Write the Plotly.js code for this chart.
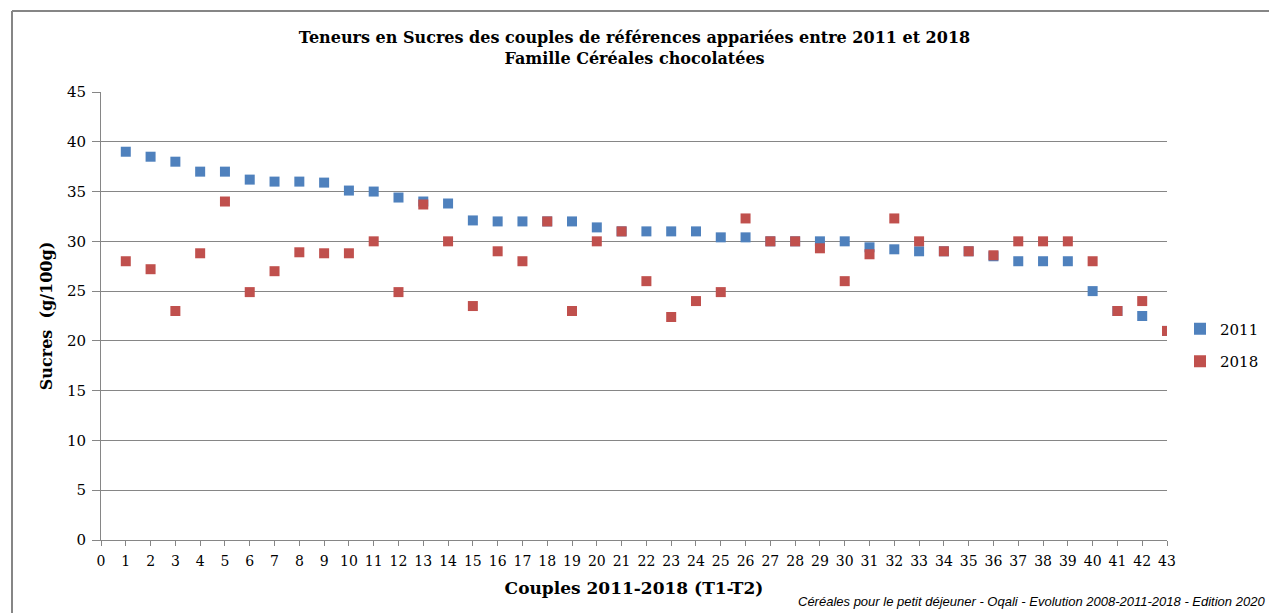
<!DOCTYPE html>
<html><head><meta charset="utf-8">
<script src="https://cdn.plot.ly/plotly-3.0.1.min.js"></script>
<style>html,body{margin:0;padding:0;background:#fff;}#chart{width:1269px;height:613px;}</style>
</head><body><div id="chart"></div>
<script>
const couples = Array.from({length:43},(_,i)=>i+1);
const sucres2011 = [39,38.5,38,37,37,36.2,36,36,35.9,35.1,35,34.4,34,33.8,32.1,32,32,32,32,31.4,31,31,31,31,30.4,30.4,30,30,30,30,29.4,29.2,29,29,29,28.5,28,28,28,25,23,22.5,21];
const sucres2018 = [28,27.2,23,28.8,34,24.9,27,28.9,28.8,28.8,30,24.9,33.7,30,23.5,29,28,32,23,30,31,26,22.4,24,24.9,32.3,30,30,29.3,26,28.7,32.3,30,29,29,28.6,30,30,30,28,23,24,21];
const xTicks = Array.from({length:44},(_,i)=>i);
const yTicks = [0,5,10,15,20,25,30,35,40,45];

const serif = "DejaVu Serif";
const traces = [
  {x:couples, y:sucres2011, name:'2011', legendgroup:'a', type:'scatter', mode:'markers',
   marker:{symbol:'square', size:10, color:'#4F81BD'}},
  {x:couples, y:sucres2018, name:'2018', legendgroup:'b', type:'scatter', mode:'markers',
   marker:{symbol:'square', size:10, color:'#C0504D'}}
];
const layout = {
  width:1269, height:613,
  margin:{l:101, r:102, t:92, b:73},
  paper_bgcolor:'#fff', plot_bgcolor:'#fff',
  font:{family:serif, color:'#000', size:15},
  title:{text:'<b>Teneurs en Sucres des couples de références appariées entre 2011 et 2018<br>Famille Céréales chocolatées</b>',
    x:0.5, xanchor:'center', y:0.93, yanchor:'top', font:{family:serif, size:16}},
  xaxis:{range:[0,43], tickvals:xTicks, ticktext:xTicks.map(String), showgrid:false, zeroline:false,
    showline:true, linecolor:'#868686', linewidth:1, ticks:'outside', ticklen:5, tickcolor:'#868686',
    tickfont:{family:serif, size:14}, ticklabelstandoff:3, automargin:false,
    title:{text:'<b>Couples 2011-2018 (T1-T2)</b>', standoff:14, font:{family:serif, size:17}}},
  yaxis:{range:[0,45], tickvals:yTicks, showgrid:true, gridcolor:'#868686', gridwidth:1, zeroline:false,
    showline:true, linecolor:'#868686', linewidth:1, ticks:'outside', ticklen:8, tickcolor:'#868686',
    tickfont:{family:serif, size:15}, ticklabelstandoff:3, automargin:false,
    title:{text:'<b>Sucres  (g/100g)</b>', standoff:10, font:{family:serif, size:16}}},
  legend:{xref:'container', yref:'container', x:1180/1269, xanchor:'left', y:(613-345)/613, yanchor:'middle',
    font:{family:serif, size:15}, itemsizing:'constant', itemwidth:30, tracegroupgap:10, bgcolor:'rgba(0,0,0,0)'},
  shapes:[
    {type:'line', xref:'paper', yref:'paper', x0:(12-101)/1066, x1:(1269-101)/1066, y0:(540-11)/448, y1:(540-11)/448, line:{color:'#868686', width:2}},
    {type:'line', xref:'paper', yref:'paper', x0:(12-101)/1066, x1:(12-101)/1066, y0:(540-11)/448, y1:(540-613)/448, line:{color:'#868686', width:2}}
  ],
  annotations:[
    {xref:'paper', yref:'paper', x:(1267-101)/1066, y:(540-601)/448, xanchor:'right', yanchor:'middle', showarrow:false,
     text:'<i>Céréales pour le petit déjeuner - Oqali - Evolution 2008-2011-2018 - Edition 2020</i>',
     font:{family:"Liberation Sans", size:13, color:'#000'}}
  ]
};
Plotly.newPlot('chart', traces, layout, {displayModeBar:false, staticPlot:true});
</script></body></html>
